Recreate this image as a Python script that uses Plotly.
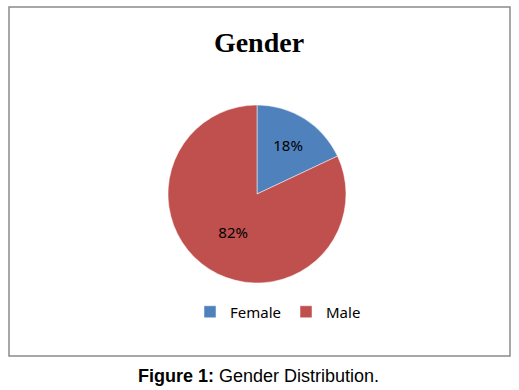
import plotly.graph_objects as go

W, H = 519, 390
labels = ["Female", "Male"]
values = [18, 82]
colors = ["#4F81BD", "#C0504D"]
title_text = "Gender"
caption = "<b>Figure 1:</b> Gender Distribution."

def px_x(x):
    return x / W

def px_y(y):
    return 1 - y / H

fig = go.Figure()
fig.add_trace(go.Pie(
    labels=labels,
    values=values,
    sort=False,
    direction="clockwise",
    rotation=0,
    marker=dict(colors=colors, line=dict(color="white", width=0.5)),
    textinfo="percent",
    textposition="inside",
    insidetextorientation="horizontal",
    textfont=dict(family="Noto Sans", size=15, color="black"),
    domain=dict(x=[px_x(168), px_x(346)], y=[px_y(283), px_y(105)]),
    hoverinfo="label+percent",
))

fig.update_layout(
    width=W, height=H,
    margin=dict(l=0, r=0, t=0, b=0),
    paper_bgcolor="white",
    plot_bgcolor="white",
    title=dict(text="<b>" + title_text + "</b>", x=px_x(259), xanchor="center",
               y=px_y(42), yanchor="middle", yref="container",
               font=dict(family="Liberation Serif", size=28, color="black")),
    showlegend=True,
    legend=dict(orientation="h", x=px_x(190), xanchor="left", y=px_y(312), yanchor="middle",
                font=dict(family="Noto Sans", size=15, color="black"),
                itemclick=False, bgcolor="rgba(0,0,0,0)"),
    shapes=[dict(type="rect", xref="paper", yref="paper",
                 x0=px_x(9), x1=px_x(510), y0=px_y(356), y1=px_y(7),
                 line=dict(color="#8a8a8a", width=1.5), fillcolor="rgba(0,0,0,0)", layer="below")],
    annotations=[dict(text=caption, xref="paper", yref="paper", x=px_x(258), y=px_y(376),
                      xanchor="center", yanchor="middle", showarrow=False,
                      font=dict(family="Liberation Sans", size=18, color="black"))],
)

fig.write_html("out.html", config={"displayModeBar": False},
               post_script="document.body.style.margin='0px';document.body.style.padding='0px';")
